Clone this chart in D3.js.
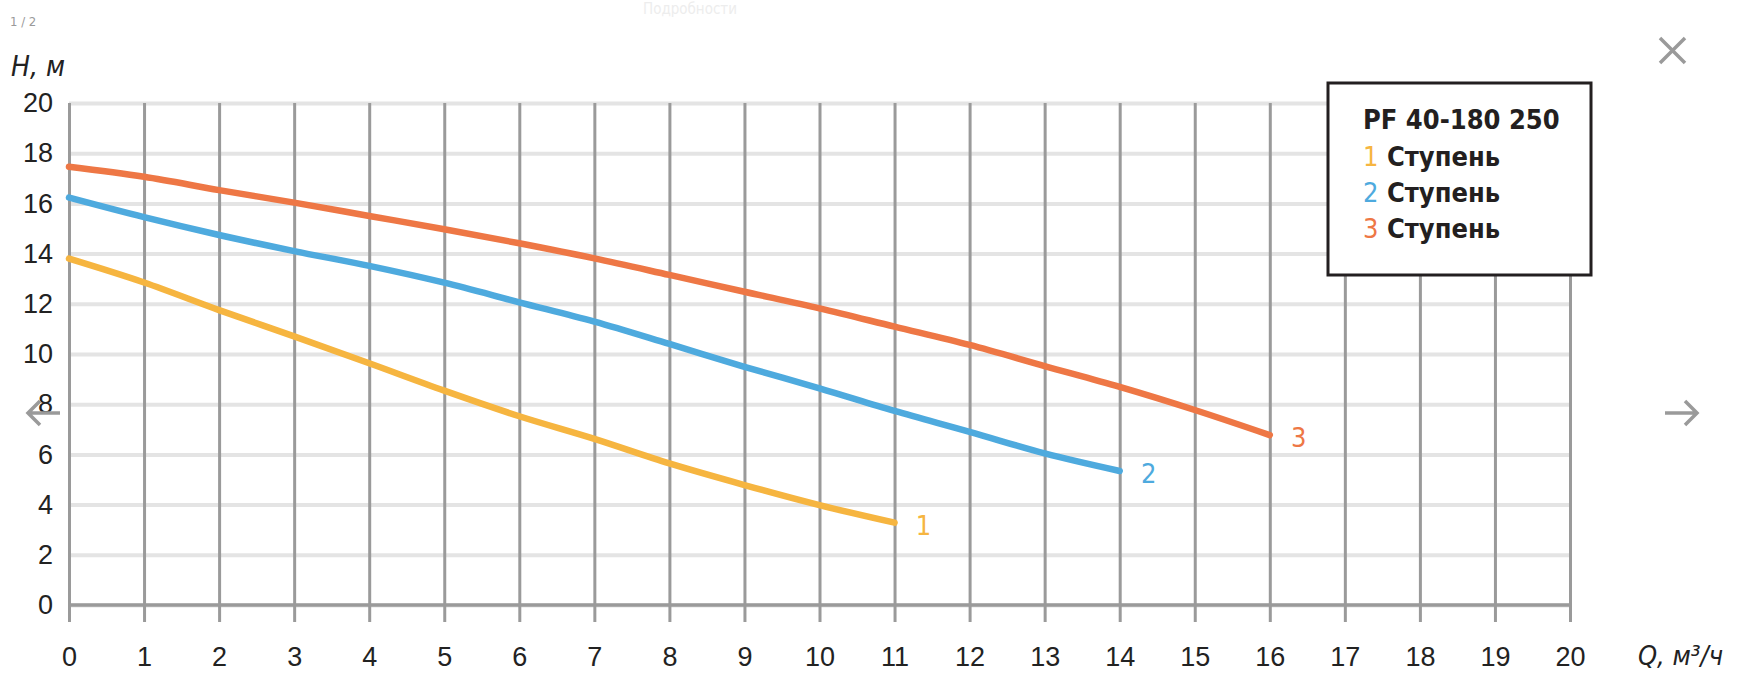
<!DOCTYPE html>
<html>
<head>
<meta charset="utf-8">
<script src="https://cdn.jsdelivr.net/npm/d3@7"></script>
<style>
  body { margin: 0; background: #fff; }
  svg { display: block; font-family: "DejaVu Sans Condensed", "DejaVu Sans", sans-serif; font-stretch: condensed; }
</style>
</head>
<body>
<div id="chart"></div>
<script>
// Pump curves: Q (m3/h) vs H (m)
var q1 = [0, 1, 2, 3, 4, 5, 6, 7, 8, 9, 10, 11];
var h1 = [13.8, 12.85, 11.75, 10.7, 9.63, 8.54, 7.52, 6.62, 5.64, 4.78, 3.98, 3.28];

var q2 = [0, 1, 2, 3, 4, 5, 6, 7, 8, 9, 10, 11, 12, 13, 14];
var h2 = [16.23, 15.45, 14.74, 14.1, 13.51, 12.84, 12.06, 11.29, 10.4, 9.49, 8.63, 7.73, 6.9, 6.04, 5.34];

var q3 = [0, 1, 2, 3, 4, 5, 6, 7, 8, 9, 10, 11, 12, 13, 14, 15, 16];
var h3 = [17.46, 17.06, 16.53, 16.03, 15.5, 14.97, 14.41, 13.81, 13.15, 12.48, 11.82, 11.09, 10.36, 9.52, 8.69, 7.77, 6.77];

var stageNames = ["1", "2", "3"];
var stageLabel = "Ступень";
var modelName = "PF 40-180 250";

var xTicks = [0, 1, 2, 3, 4, 5, 6, 7, 8, 9, 10, 11, 12, 13, 14, 15, 16, 17, 18, 19, 20];
var yTicks = [0, 2, 4, 6, 8, 10, 12, 14, 16, 18, 20];

var colors = ["#f6b540", "#4eaade", "#ee7745"];

var W = 1738, H = 684;
var pLeft = 69, pRight = 1570, pTop = 103, pBottom = 605;
var tickExtra = 17; // vertical lines run a bit below the zero line

var x = d3.scaleLinear().domain([0, 20]).range([pLeft, pRight]);
var y = d3.scaleLinear().domain([0, 20]).range([pBottom, pTop]);

var svg = d3.select("#chart")
	.append("svg")
	.attr("width", W)
	.attr("height", H);

svg.append("rect").attr("width", W).attr("height", H).attr("fill", "#fff");

// horizontal grid (light) with y labels
var yAxis = svg.append("g")
	.attr("transform", "translate(" + pLeft + ",0)")
	.call(d3.axisLeft(y).tickValues(yTicks).tickSize(-(pRight - pLeft)).tickPadding(16));
yAxis.select(".domain").remove();
yAxis.selectAll(".tick line")
	.attr("stroke", "#e4e4e4")
	.attr("stroke-width", 4);
yAxis.selectAll(".tick text")
	.attr("fill", "#222")
	.style("font-size", "27px");

// vertical grid (darker) with x labels
var xAxis = svg.append("g")
	.attr("transform", "translate(0," + (pBottom + tickExtra) + ")")
	.call(d3.axisBottom(x).tickValues(xTicks).tickSize(-(pBottom + tickExtra - pTop)));
xAxis.select(".domain").remove();
xAxis.selectAll(".tick line")
	.attr("stroke", "#9a9a9a")
	.attr("stroke-width", 3);
xAxis.selectAll(".tick text")
	.attr("y", 35)
	.attr("dy", "0.35em")
	.attr("fill", "#222")
	.style("font-size", "27px");

// zero line
svg.append("line")
	.attr("x1", x(0)).attr("x2", x(20))
	.attr("y1", y(0)).attr("y2", y(0))
	.attr("stroke", "#9a9a9a")
	.attr("stroke-width", 3.5);

// axis titles
svg.append("text")
	.attr("x", 11).attr("y", 76)
	.attr("fill", "#222")
	.style("font-size", "28px")
	.style("font-style", "italic")
	.text("H, м");

svg.append("text")
	.attr("x", 1638).attr("y", 665)
	.attr("fill", "#222")
	.style("font-size", "27px")
	.style("font-style", "italic")
	.text("Q, м³/ч");

// curves
var series = [
	{q: q1, h: h1},
	{q: q2, h: h2},
	{q: q3, h: h3}
];

var line = d3.line()
	.x(function(d) { return x(d[0]); })
	.y(function(d) { return y(d[1]); })
	.curve(d3.curveMonotoneX);

series.forEach(function(s, i) {
	var pts = s.q.map(function(v, j) { return [v, s.h[j]]; });
	svg.append("path")
		.attr("d", line(pts))
		.attr("fill", "none")
		.attr("stroke", colors[i])
		.attr("stroke-width", 6.5)
		.attr("stroke-linecap", "round");

	var last = pts[pts.length - 1];
	svg.append("text")
		.attr("x", x(last[0]) + 29)
		.attr("y", y(last[1]) + 12)
		.attr("text-anchor", "middle")
		.attr("fill", colors[i])
		.style("font-size", "27px")
		.text(stageNames[i]);
});

// legend box
var lg = svg.append("g");
lg.append("rect")
	.attr("x", 1328).attr("y", 83)
	.attr("width", 263).attr("height", 192)
	.attr("fill", "#fff")
	.attr("stroke", "#231f20")
	.attr("stroke-width", 3);

lg.append("text")
	.attr("x", 1363).attr("y", 129)
	.attr("fill", "#231f20")
	.style("font-size", "27px")
	.style("font-weight", "bold")
	.text(modelName);

var rows = lg.selectAll(".legendRow")
	.data(stageNames)
	.enter().append("text")
	.attr("class", "legendRow")
	.attr("x", 1363)
	.attr("y", function(d, i) { return 166 + i * 36; })
	.style("font-size", "27px")
	.style("font-weight", "bold");
rows.append("tspan")
	.attr("fill", function(d, i) { return colors[i]; })
	.style("font-weight", "normal")
	.text(function(d) { return d; });
rows.append("tspan")
	.attr("fill", "#231f20")
	.text(function(d) { return " " + stageLabel; });

// gallery overlay bits around the picture
svg.append("text")
	.attr("x", 10).attr("y", 26)
	.attr("fill", "#9a9a9a")
	.style("font-size", "13px")
	.text("1 / 2");

svg.append("text")
	.attr("x", 690).attr("y", 14)
	.attr("text-anchor", "middle")
	.attr("fill", "#ededed")
	.style("font-size", "15px")
	.text("Подробности");

var ui = svg.append("g")
	.attr("stroke", "#9a9a9a")
	.attr("stroke-width", 3.5)
	.attr("fill", "none");
// close cross
ui.append("path").attr("d", "M1660,38 L1685,63 M1685,38 L1660,63");
// arrows
ui.append("path").attr("d", "M28,413 L60,413 M40,401 L28,413 L40,425");
ui.append("path").attr("d", "M1665,413 L1697,413 M1685,401 L1697,413 L1685,425");
</script>
</body>
</html>
